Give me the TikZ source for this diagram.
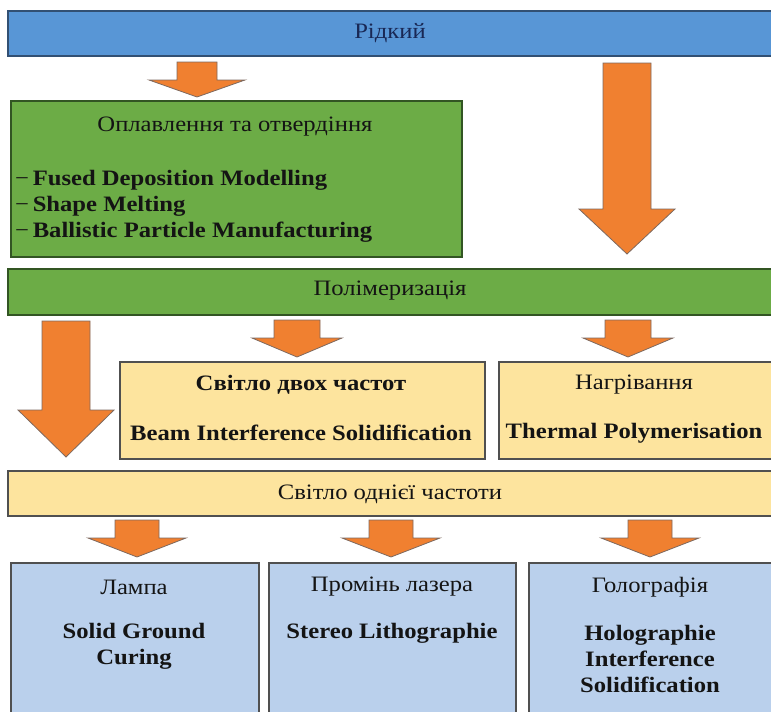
\documentclass[tikz,border=0pt]{standalone}
\usepackage{fontspec}
\setmainfont{Liberation Serif}[FakeStretch=1.12]
\usetikzlibrary{calc}

\definecolor{barblue}{RGB}{88,150,214}
\definecolor{barblueline}{RGB}{50,80,115}
\definecolor{leafgreen}{RGB}{108,172,70}
\definecolor{leafline}{RGB}{50,85,35}
\definecolor{paleyellow}{RGB}{253,228,158}
\definecolor{paleblue}{RGB}{186,208,236}
\definecolor{boxline}{RGB}{80,80,80}
\definecolor{arroworange}{RGB}{240,128,48}
\definecolor{arrowline}{RGB}{125,105,95}
\definecolor{navytext}{RGB}{25,40,85}
\definecolor{inktext}{RGB}{20,20,20}

\tikzset{
  panel/.style={draw, line width=1.6pt, anchor=north west, inner sep=0pt},
  bluebar/.style={panel, fill=barblue, draw=barblueline},
  greenpanel/.style={panel, fill=leafgreen, draw=leafline},
  yellowpanel/.style={panel, fill=paleyellow, draw=boxline},
  bluepanel/.style={panel, fill=paleblue, draw=boxline},
  plainlabel/.style={font=\fontsize{22}{25}\selectfont, text=inktext, inner sep=0pt},
  boldlabel/.style={font=\fontsize{22}{25}\selectfont\bfseries, text=inktext, inner sep=0pt},
  blockarrow/.style={fill=arroworange, draw=arrowline, line width=0.8pt, line join=miter}
}

% downward block arrow: x centre, top, head base, tip, half shaft width, half head width
\newcommand\downblock[6]{%
  \draw[blockarrow] (#1-#5,#2) -- (#1+#5,#2) -- (#1+#5,#3) -- (#1+#6,#3)
    -- (#1,#4) -- (#1-#6,#3) -- (#1-#5,#3) -- cycle;}

\begin{document}
\begin{tikzpicture}[x=1pt,y=-1pt]
\useasboundingbox (0,0) rectangle (771,712);
\clip (0,0) rectangle (771,712);

% level bars and boxes
\node[bluebar, minimum width=780, minimum height=45] (liquid) at (7,10) {};
\node[greenpanel, minimum width=451, minimum height=156] (melt) at (10,100) {};
\node[greenpanel, minimum width=780, minimum height=46] (poly) at (7,268) {};
\node[yellowpanel, minimum width=365, minimum height=97] (twofreq) at (119,361) {};
\node[yellowpanel, minimum width=290, minimum height=97] (heat) at (498,361) {};
\node[yellowpanel, minimum width=780, minimum height=45] (onefreq) at (7,470) {};
\node[bluepanel, minimum width=248, minimum height=170] (lamp) at (10,562) {};
\node[bluepanel, minimum width=247, minimum height=170] (laser) at (268,562) {};
\node[bluepanel, minimum width=260, minimum height=170] (holo) at (528,562) {};

% texts
\node[plainlabel, text=navytext] (tliquid) at (390,33) {Рідкий};
\node[plainlabel] (tmelt) at (235,127) {Оплавлення та отвердіння};
\node[boldlabel, anchor=west] (tfdm) at (15,180) {\textmd{−}\,Fused Deposition Modelling};
\node[boldlabel, anchor=west] (tsm) at (15,206) {\textmd{−}\,Shape Melting};
\node[boldlabel, anchor=west] (tbpm) at (15,232) {\textmd{−}\,Ballistic Particle Manufacturing};
\node[plainlabel] (tpoly) at (390,291) {Полімеризація};
\node[boldlabel] (ttwo) at (301,385) {Світло двох частот};
\node[boldlabel] (tbis) at (301,433) {Beam Interference Solidification};
\node[plainlabel] (theat) at (634,385) {Нагрівання};
\node[boldlabel] (ttp) at (634,433) {Thermal Polymerisation};
\node[plainlabel] (tone) at (390,494) {Світло однієї частоти};
\node[plainlabel] (tlamp) at (134,587) {Лампа};
\node[boldlabel, align=center] (tsgc) at (134,646) {Solid Ground\\[1pt]Curing};
\node[plainlabel] (tlaser) at (392,587) {Промінь лазера};
\node[boldlabel] (tsl) at (392,633) {Stereo Lithographie};
\node[plainlabel] (tholo) at (650,587) {Голографія};
\node[boldlabel, align=center] (this) at (650,659) {Holographie\\[1pt]Interference\\[1pt]Solidification};

% block arrows between levels
\downblock{197}{62}{80}{97}{20}{48}
\downblock{627}{63}{209}{254}{24}{48}
\downblock{66}{321}{410}{457}{24}{48}
\downblock{297}{320}{338}{357}{23}{45}
\downblock{628}{320}{338}{357}{23}{45}
\downblock{137}{520}{538}{557}{22}{49}
\downblock{391}{520}{538}{557}{22}{49}
\downblock{650}{520}{538}{557}{22}{49}
\end{tikzpicture}
\end{document}
